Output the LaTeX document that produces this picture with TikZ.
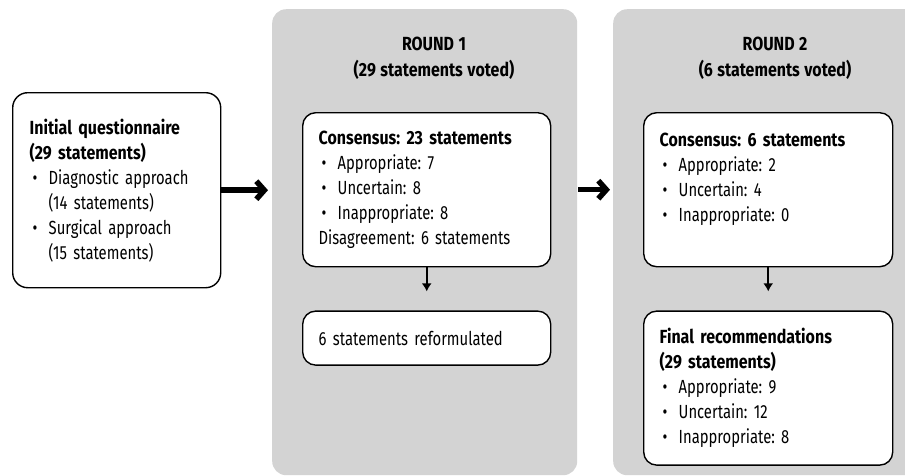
\documentclass[tikz,border=0pt]{standalone}
\usepackage{fontspec}
\setmainfont{Fira Sans}[
  UprightFeatures={FakeStretch=0.78},
  BoldFeatures={FakeStretch=0.84}]
\usepackage{tikz}
\usetikzlibrary{positioning,arrows.meta}

\definecolor{panelgray}{RGB}{211,211,211}
\newcommand\bul{\makebox[19pt][l]{\hspace{3pt}\textbullet}}
\newcommand\ind{\hspace*{19pt}}
\newcommand\tightsp{\spaceskip 4.5pt plus 1.5pt minus 1pt\relax}
\frenchspacing

\begin{document}
\begin{tikzpicture}[
x=1pt,y=-1pt,
font=\fontsize{19}{25}\selectfont\tightsp,
panel/.style={
  fill=panelgray,
  rounded corners=14pt,
  anchor=north west,
  inner sep=0pt
  },
box/.style={
  draw,
  fill=white,
  line width=1.4pt,
  rounded corners=13pt,
  anchor=north west,
  align=left,
  inner xsep=16pt,
  inner ysep=0pt,
  text width=216pt
  },
header/.style={align=center},
bigarrow/.style={line width=5.5pt, -{Straight Barb[length=8pt,width=18pt]}},
smallarrow/.style={line width=1.8pt, -{Latex[length=8pt,width=10pt]}}
]
\useasboundingbox (0,0) rectangle (905,475);

% grey panels for the two rounds
\node[panel, minimum width=305pt, minimum height=466pt] (r1) at (272,9) {};
\node[panel, minimum width=310pt, minimum height=466pt] (r2) at (613,9) {};

\node[header] (h1) at (434,58) {\textbf{ROUND 1}\\[1pt]\textbf{(29 statements voted)}};
\node[header] (h2) at (775,58) {\textbf{ROUND 2}\\[1pt]\textbf{(6 statements voted)}};

% boxes
\node[box, text width=174pt, inner xsep=17pt, minimum height=195pt, rounded corners=15pt] (init) at (12,92)
  {\textbf{Initial questionnaire}\\
   \textbf{(29 statements)}\\
   \bul Diagnostic approach\\
   \ind (14 statements)\\
   \bul Surgical approach\\
   \ind (15 statements)};

\node[box, minimum height=154pt] (c1) at (302,112)
  {\textbf{Consensus: 23 statements}\\
   \bul Appropriate: 7\\
   \bul Uncertain: 8\\
   \bul Inappropriate: 8\\
   Disagreement: 6 statements};

\node[box, minimum height=54pt, below=43pt of c1.south west, anchor=north west] (ref) {6 statements reformulated};

\node[box, text width=217pt, minimum height=154pt] (c2) at (643,112)
  {\textbf{Consensus: 6 statements}\\
   \bul Appropriate: 2\\
   \bul Uncertain: 4\\
   \bul Inappropriate: 0\\
   \mbox{}};

\node[box, text width=217pt, minimum height=154pt, below=43pt of c2.south west, anchor=north west] (fin)
  {\textbf{Final recommendations}\\
   \textbf{(29 statements)}\\
   \bul Appropriate: 9\\
   \bul Uncertain: 12\\
   \bul Inappropriate: 8};

% arrows
\draw[bigarrow, shorten >=4pt] (init.east) -- (init.east -| r1.west);
\draw[bigarrow, shorten <=1pt, shorten >=3pt] (c1.east -| r1.east) -- (c2.west -| r2.west);
\draw[smallarrow, shorten >=19pt] (c1.south) -- (ref.north);
\draw[smallarrow, shorten >=19pt] (c2.south) -- (fin.north);
\end{tikzpicture}
\end{document}
